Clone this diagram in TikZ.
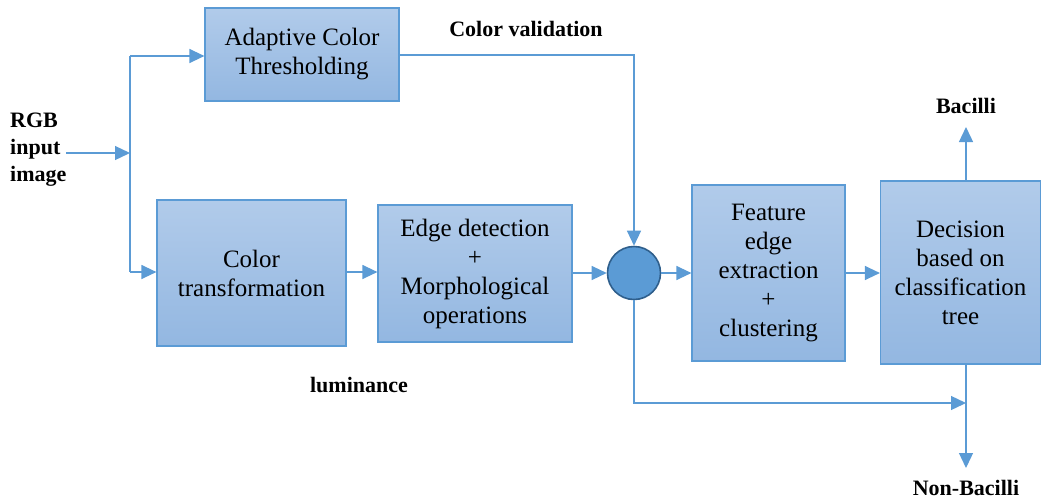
\documentclass[tikz,border=0pt]{standalone}
\usepackage{fontspec}
\setmainfont{Liberation Serif}
\newfontfamily\tnr{Liberation Serif}
\usetikzlibrary{arrows.meta,positioning}
\definecolor{lineblue}{HTML}{5B9BD5}
\definecolor{boxtop}{HTML}{B1CBEA}
\definecolor{boxbot}{HTML}{93B7E1}
\definecolor{circedge}{HTML}{2F5F8C}
\tikzset{
  procbox/.style={draw=lineblue, line width=1.2pt, top color=boxtop, bottom color=boxbot,
    align=center, inner sep=2pt, font=\tnr\fontsize{25}{29}\selectfont,
    execute at begin node={\rule{0pt}{25pt}}},
  conn/.style={draw=lineblue, line width=1.3pt, -{Triangle[length=15pt,width=14pt]}},
  plain/.style={draw=lineblue, line width=1.3pt},
  lbl/.style={font=\tnr\fontsize{22}{27}\selectfont\bfseries, inner sep=0pt}
}
\begin{document}
\begin{tikzpicture}[x=1pt,y=-1pt]
\useasboundingbox (0,0) rectangle (1042,499);
\node[procbox, minimum width=194pt, minimum height=93pt] (act) at (302,54.5) {Adaptive Color\\Thresholding};
\node[procbox, minimum width=189pt, minimum height=146pt] (ct) at (251.5,273) {Color\\transformation};
\node[procbox, minimum width=194pt, minimum height=137pt] (ed) at (475,273.5) {Edge detection\\+\\Morphological\\operations};
\node[circle, draw=circedge, line width=1.6pt, fill=lineblue, minimum size=53pt, inner sep=0pt] (sum) at (634,273) {};
\node[procbox, minimum width=153pt, minimum height=176pt] (fe) at (768.5,273) {Feature\\edge\\extraction\\+\\clustering};
\node[procbox, minimum width=160pt, minimum height=183pt] (dec) at (960.5,272.5) {Decision\\based on\\classification\\tree};

\node[lbl, align=left, anchor=west] (rgb) at (10,150) {RGB\\input\\image};
\node[lbl] (cv) at (526,29) {Color validation};
\node[lbl] (lum) at (359,385) {luminance};
\node[lbl] (bac) at (966,106) {Bacilli};
\node[lbl, anchor=base] (nonbac) at (966,495) {Non-Bacilli};

\coordinate (split) at (130,153);
\coordinate (splittop) at (130,56);
\coordinate (splitbot) at (130,272);
\coordinate (cvcorner) at (634,55);
\coordinate (sumbot) at (634,403);
\coordinate (bactip) at (966,127);
\coordinate (nontip) at (966,468);
\coordinate (decbot) at (966,403);

\draw[conn] (66,153) -- (split);
\draw[plain] (splittop) -- (splitbot);
\draw[conn] (splittop) -- (act.west |- splittop);
\draw[conn] (splitbot) -- (ct.west |- splitbot);
\draw[conn] (ct.east |- 0,272) -- (ed.west |- 0,272);
\draw[conn] (ed.east |- sum) -- (sum.west);
\draw[conn] (act.east |- cvcorner) -- (cvcorner) -- (sum.north);
\draw[conn] (sum.east) -- (fe.west |- sum);
\draw[conn] (fe.east |- sum) -- (dec.west |- sum);
\draw[conn] (dec.north -| bactip) -- (bactip);
\draw[conn] (dec.south -| nontip) -- (nontip);
\draw[conn] (sum.south) -- (sumbot) -- (decbot);
\end{tikzpicture}
\end{document}
